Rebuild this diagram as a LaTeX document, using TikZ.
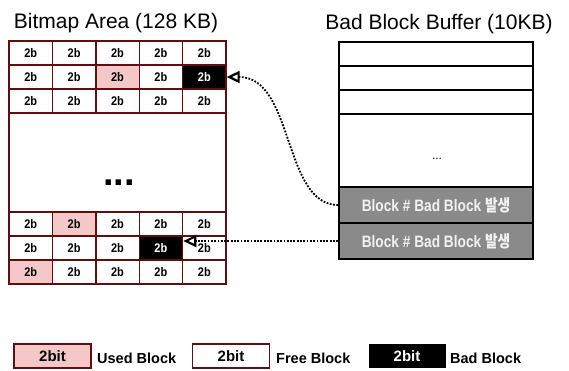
\documentclass[tikz,border=0pt]{standalone}
\usepackage{fontspec}
\usepackage{graphicx}
\setmainfont{Liberation Sans}
\newfontfamily\krfont{Noto Sans CJK KR}
\usetikzlibrary{arrows.meta}

\definecolor{gridred}{RGB}{96,14,14}
\definecolor{usedpink}{RGB}{244,200,200}
\definecolor{slotgrey}{RGB}{138,138,138}
\definecolor{slottext}{RGB}{242,242,242}

\tikzset{
  cell/.style={draw=gridred, line width=1.4pt, fill=white,
    minimum width=43.4pt, minimum height=24pt, inner sep=0pt,
    font=\fontsize{12.5}{13}\selectfont\bfseries},
  used/.style={cell, fill=usedpink},
  bad/.style={cell, fill=black, text=white},
  slot/.style={draw=black, line width=1.8pt, fill=white,
    minimum width=194pt, minimum height=24pt, inner sep=0pt},
  badslot/.style={slot, fill=slotgrey, minimum height=36pt, text=slottext,
    font=\fontsize{16.5}{18}\selectfont\bfseries},
  title/.style={anchor=base, font=\fontsize{21}{24}\selectfont},
  keybox/.style={minimum width=77pt, minimum height=24pt, inner sep=0pt,
    font=\fontsize{15}{16}\selectfont\bfseries},
  keylabel/.style={anchor=base west, inner sep=0pt,
    font=\fontsize{14.5}{16}\selectfont\bfseries},
  link/.style={line width=1.8pt, dash pattern=on 1.8pt off 1.5pt,
    -{Triangle[open, length=13pt, width=12pt, line width=2.2pt]}},
}

\newcommand{\cellmark}{\scalebox{0.88}[1]{2b}}

\begin{document}
\begin{tikzpicture}[x=1pt, y=-1pt]
  \fill[white] (0,0) rectangle (569,370);
  \useasboundingbox (0,0) rectangle (569,370);

  % titles
  \node[title] (bmtitle) at (116,28.5) {Bitmap Area (128 KB)};
  \node[title] (buftitle) at (439,29) {Bad Block Buffer (10KB)};

  % bitmap: three rows on top
  \foreach \c/\s in {1/cell,2/cell,3/cell,4/cell,5/cell}
    \node[\s] (t1-\c) at ({9+43.4*(\c-0.5)},53) {\cellmark};
  \foreach \c/\s in {1/cell,2/cell,3/used,4/cell,5/bad}
    \node[\s] (t2-\c) at ({9+43.4*(\c-0.5)},77) {\cellmark};
  \foreach \c/\s in {1/cell,2/cell,3/cell,4/cell,5/cell}
    \node[\s] (t3-\c) at ({9+43.4*(\c-0.5)},101) {\cellmark};

  % bitmap: skipped middle part
  \node[cell, minimum width=217pt, minimum height=99pt] (gap) at (117.5,162.5) {};
  \node[anchor=base, inner sep=0pt, font=\fontsize{38}{38}\selectfont\bfseries]
    (gapdots) at (119,185) {...};

  % bitmap: three rows at the bottom
  \foreach \c/\s in {1/cell,2/used,3/cell,4/cell,5/cell}
    \node[\s] (b1-\c) at ({9+43.4*(\c-0.5)},224) {\cellmark};
  \foreach \c/\s in {1/cell,2/cell,3/cell,4/bad,5/cell}
    \node[\s] (b2-\c) at ({9+43.4*(\c-0.5)},248) {\cellmark};
  \foreach \c/\s in {1/used,2/cell,3/cell,4/cell,5/cell}
    \node[\s] (b3-\c) at ({9+43.4*(\c-0.5)},272) {\cellmark};

  % bad block buffer
  \node[slot] (r1) at (436,54) {};
  \node[slot] (r2) at (436,78) {};
  \node[slot] (r3) at (436,102) {};
  \node[slot, minimum height=73pt] (rgap) at (436,150.5) {};
  \node[anchor=base, inner sep=0pt, font=\fontsize{12}{12}\selectfont]
    (bufdots) at (437,159) {...};
  \node[badslot] (g1) at (436,205)
    {\scalebox{0.83}[1]{Block \# Bad Block {\krfont 발생}}};
  \node[badslot] (g2) at (436,241)
    {\scalebox{0.83}[1]{Block \# Bad Block {\krfont 발생}}};

  % references from buffer entries to bitmap cells
  \draw[link] (g1.west) .. controls (283,205) and (294,77) .. (t2-5.east);
  \draw[link] (g2.west) -- (g2.west -| b2-4.east);

  % legend
  \node[keybox, draw=gridred, line width=1.4pt, fill=usedpink] (keyused) at (52.5,356) {2bit};
  \node[keylabel] (keyusedlbl) at (97,363) {Used Block};
  \node[keybox, draw=gridred, line width=1.4pt, fill=white] (keyfree) at (231,356) {2bit};
  \node[keylabel] (keyfreelbl) at (276,363) {Free Block};
  \node[keybox, fill=black, text=white] (keybad) at (407,356) {2bit};
  \node[keylabel] (keybadlbl) at (450,363) {Bad Block};
\end{tikzpicture}
\end{document}
